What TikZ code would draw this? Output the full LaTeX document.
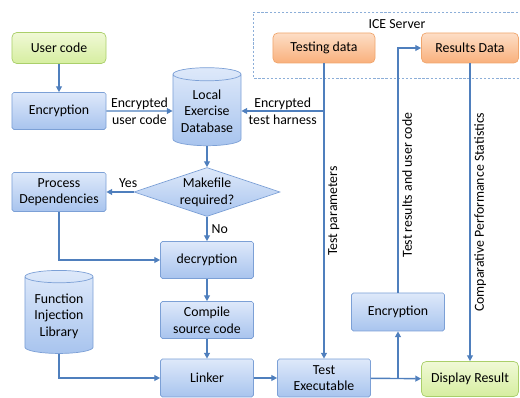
\documentclass[tikz,border=0pt]{standalone}
\usepackage{fontspec}
\setmainfont{Carlito}
\usepackage{tikz}
\usetikzlibrary{shapes, shapes.geometric, arrows.meta, positioning, calc}
\definecolor{boxtop}{RGB}{222, 233, 250}
\definecolor{boxbot}{RGB}{168, 196, 238}
\definecolor{boxline}{RGB}{124, 160, 214}
\definecolor{greentop}{RGB}{240, 249, 214}
\definecolor{greenbot}{RGB}{214, 238, 160}
\definecolor{greenline}{RGB}{170, 207, 106}
\definecolor{orangetop}{RGB}{253, 222, 198}
\definecolor{orangebot}{RGB}{249, 176, 124}
\definecolor{orangeline}{RGB}{240, 166, 110}
\definecolor{flowblue}{RGB}{79, 127, 189}
\definecolor{dashblue}{RGB}{140, 174, 216}

\begin{document}
\begin{tikzpicture}[x=0.03cm, y=-0.03cm,
    font=\fontsize{11.8}{14.2}\selectfont,
    box/.style={rectangle, draw=boxline, line width=0.6pt, top color=boxtop, bottom color=boxbot,
      rounded corners=1.5pt, align=center, inner sep=1pt, minimum width=2.8cm},
    startbox/.style={box, draw=greenline, top color=greentop, bottom color=greenbot, rounded corners=4pt},
    databox/.style={box, draw=orangeline, top color=orangetop, bottom color=orangebot, rounded corners=4pt},
    store/.style={cylinder, shape border rotate=90, aspect=0.24, draw=boxline, line width=0.6pt,
      top color=boxtop, bottom color=boxbot, align=center, inner sep=1pt, minimum width=2.04cm},
    decision/.style={diamond, draw=boxline, line width=0.6pt, top color=boxtop, bottom color=boxbot,
      align=center, inner sep=0pt, minimum width=4.38cm, minimum height=1.47cm, aspect=3},
    flow/.style={draw=flowblue, line width=1.2pt, -{Triangle[length=5pt, width=5pt]}},
    line/.style={draw=flowblue, line width=1.2pt},
    vlabel/.style={rotate=90, anchor=north, inner sep=3pt}]
  \useasboundingbox (0,0) rectangle (520,398);

  % ICE server region
  \draw[dashblue, dashed, line width=0.6pt, dash pattern=on 2pt off 1.5pt] (522,12) -- (253,12) -- (253,78) -- (522,78);
  \node (ice) at (397,24) {ICE Server};
  \node[databox, minimum width=3.06cm, minimum height=0.9cm] (tdata) at (324,48) {Testing data};
  \node[databox, minimum width=2.91cm, minimum height=0.9cm] (rdata) at (470,48) {Results Data};

  % client side
  \node[startbox, minimum width=2.82cm, minimum height=0.93cm] (user) at (59,48) {User code};
  \node[box, minimum width=2.82cm, minimum height=1.11cm] (enc) at (59,111) {Encryption};
  \node[store, minimum height=2.34cm] (db) at (207,111) {Local\\Exercise\\Database};
  \node[decision] (make) at (207,192) {Makefile\\required?};
  \node[box, minimum width=2.82cm, minimum height=1.17cm] (deps) at (59,192) {Process\\Dependencies};
  \node[box, minimum width=2.79cm, minimum height=1.11cm] (decr) at (207,260) {decryption};
  \node[store, minimum height=2.49cm] (fil) at (59,316) {Function\\Injection\\Library};
  \node[box, minimum width=2.79cm, minimum height=1.11cm] (comp) at (207,320) {Compile\\source code};
  \node[box, minimum width=2.79cm, minimum height=1.14cm] (link) at (207,378) {Linker};
  \node[box, minimum width=2.79cm, minimum height=1.14cm] (texe) at (324,378) {Test\\Executable};
  \node[box, minimum width=2.79cm, minimum height=1.14cm] (enc2) at (398,312) {Encryption};
  \node[startbox, minimum width=2.91cm, minimum height=1.05cm] (disp) at (470,379) {Display Result};

  % connectors
  \draw[flow] (user) -- (enc);
  \draw[flow] (enc) -- (db) node[midway, align=center] {Encrypted\\user code};
  \draw[flow] (tdata) |- (db) node[pos=0.75, align=center] {Encrypted\\test harness};
  \draw[flow] (tdata) -- (texe) node[midway, vlabel] {Test parameters};
  \draw[flow] (db) -- (make);
  \draw[flow] (make) -- (deps) node[pos=0.2, above] {Yes};
  \draw[flow] (make) -- (decr) node[midway, right] {No};
  \draw[flow] (deps) |- (decr);
  \draw[flow] (decr) -- (comp);
  \draw[flow] (comp) -- (link);
  \draw[flow] (fil) |- (link);
  \draw[flow] (link) -- (texe);
  \draw[flow] (texe) -- (disp);
  \coordinate (split) at (enc2.south |- texe.east);
  \draw[flow] (split) -- (enc2);
  \draw[flow] (enc2) |- (rdata) node[pos=0.22, vlabel] {Test results and user code};
  \draw[flow] (rdata) -- (disp) node[midway, vlabel] {Comparative Performance Statistics};
\end{tikzpicture}
\end{document}
